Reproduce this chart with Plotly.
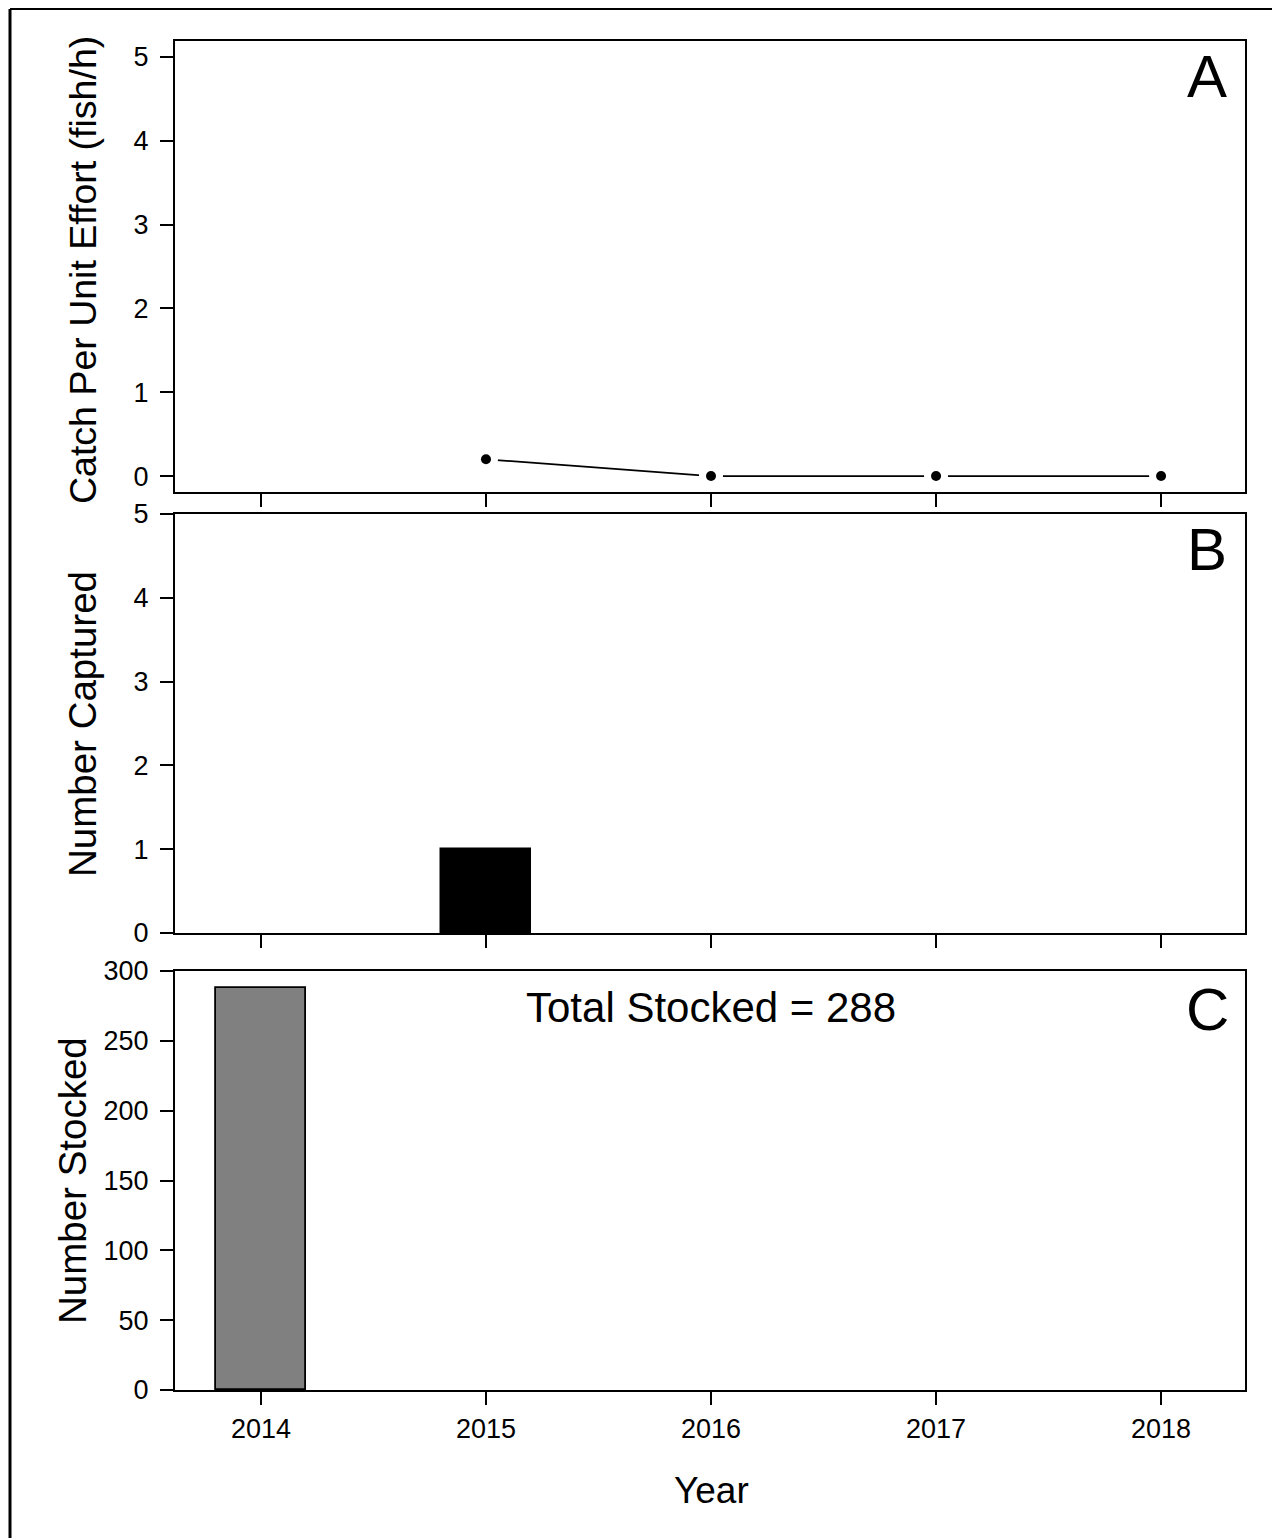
import plotly.graph_objects as go

# ---- data ----
years = [2014, 2015, 2016, 2017, 2018]
cpue = [None, 0.2, 0.0, 0.0, 0.0]          # fish/h
captured = [0, 1, 0, 0, 0]
stocked = [288, 0, 0, 0, 0]
total_stocked = 288
panel_letters = ["A", "B", "C"]
ytitles = ["Catch Per Unit Effort (fish/h)", "Number Captured", "Number Stocked"]

W, H = 1277, 1538
FONT = "Arial, Liberation Sans, Helvetica, sans-serif"

def px(x):
    return x / W

def py(y):
    return 1 - y / H

fig = go.Figure()

# Panel A: line with gaps around markers
fig.add_trace(go.Scatter(x=years, y=cpue, mode="lines", line=dict(color="black", width=1.8),
                         xaxis="x", yaxis="y", showlegend=False, connectgaps=False))
fig.add_trace(go.Scatter(x=years, y=cpue, mode="markers", marker=dict(color="white", size=24, line=dict(width=0)),
                         xaxis="x", yaxis="y", showlegend=False))
fig.add_trace(go.Scatter(x=years, y=cpue, mode="markers", marker=dict(color="black", size=10, line=dict(width=0)),
                         xaxis="x", yaxis="y", showlegend=False))

# Panel B: bars (no outline on zero-height bars)
fig.add_trace(go.Bar(x=years, y=captured, width=0.4,
                     marker=dict(color="black", line=dict(color="black", width=[1.5 if v else 0 for v in captured])),
                     xaxis="x2", yaxis="y2", showlegend=False))

# Panel C: bars
fig.add_trace(go.Bar(x=years, y=stocked, width=0.4,
                     marker=dict(color="#808080", line=dict(color="black", width=[1.8 if v else 0 for v in stocked])),
                     xaxis="x3", yaxis="y3", showlegend=False))

xrange = [2013.618, 2018.373]
xdom = [px(175), px(1245)]

common_x = dict(range=xrange, domain=xdom, tickvals=years, ticks="outside", ticklen=13, tickwidth=2,
                tickcolor="black", showline=True, linecolor="black", linewidth=2, mirror=True,
                showgrid=False, zeroline=False, automargin=False,
                tickfont=dict(family=FONT, size=27, color="black"))
common_y = dict(ticks="outside", ticklen=13, tickwidth=2, tickcolor="black", showline=True,
                linecolor="black", linewidth=2, mirror=True, showgrid=False, zeroline=False,
                automargin=False, ticklabelstandoff=6,
                tickfont=dict(family=FONT, size=27, color="black"))

fig.update_layout(
    width=W, height=H,
    margin=dict(l=0, r=0, t=0, b=0),
    paper_bgcolor="white", plot_bgcolor="white",
    bargap=0,
    xaxis=dict(common_x, anchor="y", showticklabels=False),
    yaxis=dict(common_y, anchor="x", domain=[py(492), py(41)], range=[-0.19, 5.19],
               tickvals=[0, 1, 2, 3, 4, 5]),
    xaxis2=dict(common_x, anchor="y2", showticklabels=False),
    yaxis2=dict(common_y, anchor="x2", domain=[py(933), py(514)], range=[0, 5],
                tickvals=[0, 1, 2, 3, 4, 5]),
    xaxis3=dict(common_x, anchor="y3", showticklabels=True, ticklabelstandoff=1),
    yaxis3=dict(common_y, anchor="x3", domain=[py(1390), py(971)], range=[0, 300],
                tickvals=[0, 50, 100, 150, 200, 250, 300]),
)

annots = []
letter_y = [76, 549, 1010]
for letter, yy in zip(panel_letters, letter_y):
    annots.append(dict(text=letter, xref="paper", yref="paper", x=px(1207), y=py(yy),
                       xanchor="center", yanchor="middle", showarrow=False,
                       font=dict(family=FONT, size=60, color="black")))

title_pos = [(83, 270), (82, 724), (72, 1181)]
title_sizes = [37.5, 38.5, 38.5]
for t, (xx, yy), fs in zip(ytitles, title_pos, title_sizes):
    annots.append(dict(text=t, xref="paper", yref="paper", x=px(xx), y=py(yy), textangle=-90,
                       xanchor="center", yanchor="middle", showarrow=False,
                       font=dict(family=FONT, size=fs, color="black")))

annots.append(dict(text="Year", xref="paper", yref="paper", x=px(711), y=py(1490),
                   xanchor="center", yanchor="middle", showarrow=False,
                   font=dict(family=FONT, size=37, color="black")))
annots.append(dict(text=f"Total Stocked = {total_stocked}", xref="paper", yref="paper", x=px(711), y=py(1007),
                   xanchor="center", yanchor="middle", showarrow=False,
                   font=dict(family=FONT, size=42, color="black")))
fig.update_layout(annotations=annots)

# outer frame (top and left edges only)
fig.add_shape(type="line", xref="paper", yref="paper", x0=px(10), x1=px(10), y0=0, y1=py(9),
              line=dict(color="black", width=3))
fig.add_shape(type="line", xref="paper", yref="paper", x0=px(10), x1=px(1272), y0=py(9), y1=py(9),
              line=dict(color="black", width=2))

fig.write_html("out.html")
